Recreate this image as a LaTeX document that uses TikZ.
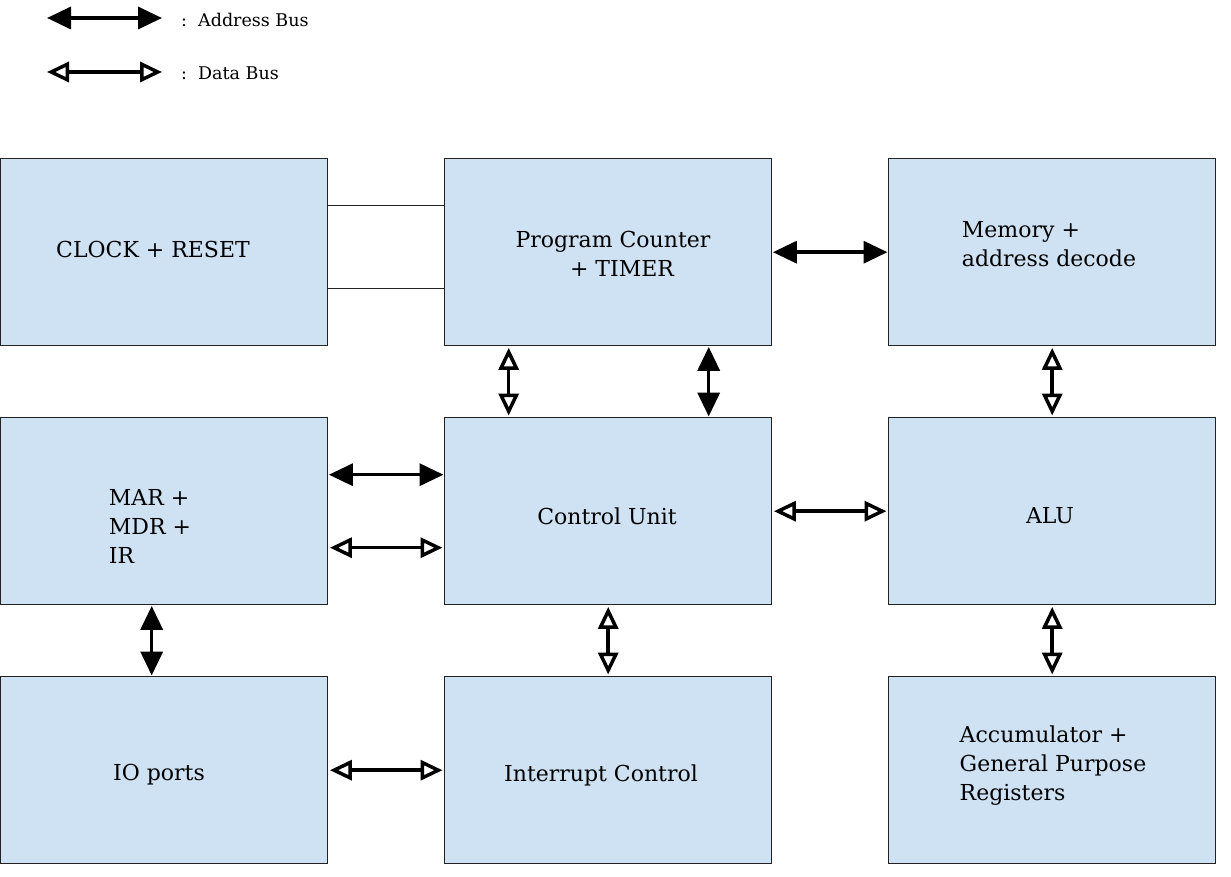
\documentclass[tikz,border=0pt]{standalone}
\usepackage{fontspec}
\setmainfont{DejaVu Serif}
\usetikzlibrary{arrows.meta}
\definecolor{boxfill}{HTML}{CFE2F3}
\definecolor{boxline}{HTML}{222222}
\tikzset{
  blk/.style={draw=boxline, line width=1.4pt, fill=boxfill, minimum width=327pt, minimum height=187pt, anchor=north west, inner sep=0pt},
  txt/.style={font=\fontsize{22}{29}\selectfont, align=left, inner sep=0pt},
  legtxt/.style={font=\fontsize{17.5}{20}\selectfont, anchor=west, inner sep=0pt},
  addr/.style={line width=3.5pt, {Triangle[length=24pt,width=22pt]}-{Triangle[length=24pt,width=22pt]}, shorten <=0.5pt, shorten >=0.5pt},
  data/.style={line width=3.5pt, {Triangle[open,length=22pt,width=20pt,fill=white]}-{Triangle[open,length=22pt,width=20pt,fill=white]}, shorten <=1.5pt, shorten >=1.5pt},
  thin/.style={draw=boxline, line width=1.4pt}
}
\begin{document}
\begin{tikzpicture}[x=1pt,y=-1pt]
\useasboundingbox (0,0) rectangle (1231,877);
% legend
\coordinate (la1) at (47,18);
\coordinate (la2) at (162,18);
\coordinate (ld1) at (47,72);
\coordinate (ld2) at (162,72);
\draw[addr, shorten <=0pt, shorten >=0pt] (la1) -- (la2);
\draw[data, shorten <=0pt, shorten >=0pt] (ld1) -- (ld2);
\node[legtxt] (lat) at (181,20) {:\ \ Address Bus};
\node[legtxt] (ldt) at (181,73) {:\ \ Data Bus};
% boxes
\node[blk] (clk) at (0,158) {};
\node[blk] (pc) at (444,158) {};
\node[blk] (mem) at (888,158) {};
\node[blk] (mar) at (0,417) {};
\node[blk] (cu) at (444,417) {};
\node[blk] (alu) at (888,417) {};
\node[blk] (io) at (0,676) {};
\node[blk] (irq) at (444,676) {};
\node[blk] (acc) at (888,676) {};
% texts
\node[txt] (clkt) at (153,249) {CLOCK + RESET};
\node[txt, align=center] (pct) at (613,254) {Program Counter\\\hspace*{18pt}+ TIMER};
\node[txt] (memt) at (1049,244) {Memory +\\address decode};
\node[txt] (mart) at (150,526) {MAR +\\MDR +\\IR};
\node[txt] (cut) at (607,516) {Control Unit};
\node[txt] (alut) at (1050,516) {ALU};
\node[txt] (iot) at (159,775) {IO ports};
\node[txt] (irqt) at (601,775) {Interrupt Control};
\node[txt] (acct) at (1053,766) {Accumulator +\\General Purpose\\Registers};
% thin lines clock - pc
\draw[thin] ([yshift=46.5pt]clk.east) -- ([yshift=46.5pt]pc.west);
\draw[thin] ([yshift=-36.5pt]clk.east) -- ([yshift=-36.5pt]pc.west);
% buses
\draw[addr] (pc.east) -- (mem.west);
\draw[data] ([xshift=-99.5pt]pc.south) -- ([xshift=-99.5pt]cu.north);
\draw[addr] ([xshift=100.5pt]pc.south) -- ([xshift=100.5pt]cu.north);
\draw[data] (mem.south) -- (alu.north);
\draw[addr] ([yshift=36.5pt]mar.east) -- ([yshift=36.5pt]cu.west);
\draw[data] ([yshift=-36.5pt]mar.east) -- ([yshift=-36.5pt]cu.west);
\draw[data] (cu.east) -- (alu.west);
\draw[addr] ([xshift=-12.5pt]mar.south) -- ([xshift=-12.5pt]io.north);
\draw[data] (cu.south) -- (irq.north);
\draw[data] (alu.south) -- (acc.north);
\draw[data] (io.east) -- (irq.west);
\end{tikzpicture}
\end{document}
